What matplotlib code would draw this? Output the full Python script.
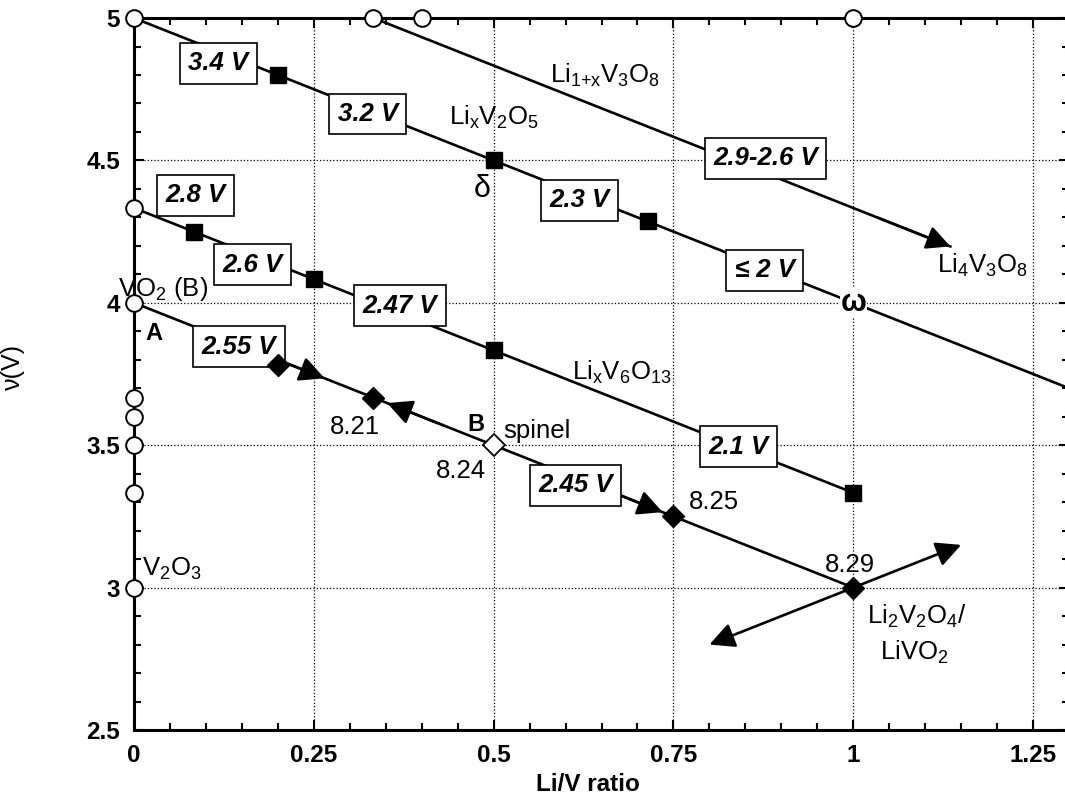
import matplotlib
matplotlib.use("Agg")
import matplotlib.pyplot as plt
import numpy as np
from matplotlib.ticker import MultipleLocator, FuncFormatter

plt.rcParams['font.family'] = ['Liberation Sans', 'DejaVu Sans']
plt.rcParams['mathtext.fontset'] = 'custom'
plt.rcParams['mathtext.rm'] = 'Liberation Sans'
plt.rcParams['mathtext.it'] = 'Liberation Sans'
plt.rcParams['mathtext.bf'] = 'Liberation Sans:bold'

# ---- data (x = Li/V ratio, y = average V valence) ----
# Li_xV2O5 line (runs off the right edge)
v2o5_x = [0.0, 1.3]
v2o5_y = [5.0, 3.7]
v2o5_sq_x = [0.2, 0.5, 0.714]
v2o5_sq_y = [4.8, 4.5, 4.286]

# Li1+xV3O8 line ending in an arrow at Li4V3O8
v3o8_x = [0.333, 1.135]
v3o8_y = [5.0, 4.198]

# Li_xV6O13 line
v6o13_x = [0.0, 1.0]
v6o13_y = [4.333, 3.333]
v6o13_sq_x = [0.083, 0.25, 0.5, 1.0]
v6o13_sq_y = [4.25, 4.083, 3.833, 3.333]

# A -> B (spinel) -> Li2V2O4 line
ab_x = [0.0, 1.0]
ab_y = [4.0, 3.0]
ab_dia_x = [0.2, 0.333, 0.75, 1.0]
ab_dia_y = [3.78, 3.667, 3.25, 3.0]
spinel_x = [0.5]
spinel_y = [3.5]
# lattice parameters next to the diamonds
lat_labels = ['8.21', '8.24', '8.25', '8.29']
lat_x = [0.307, 0.455, 0.806, 0.995]
lat_y = [3.565, 3.41, 3.30, 3.08]

# arrowheads along the A-B line: (tail x, tip x)
mid_arrows = [(0.20, 0.265), (0.43, 0.352), (0.67, 0.735)]
# double arrow through Li2V2O4
dbl_tips_x = [0.80, 1.15]
dbl_tips_y = [2.80, 3.15]

# open circles on the axes (known oxides)
circ_left_y = [5.0, 4.333, 4.0, 3.667, 3.6, 3.5, 3.333, 3.0]
circ_top_x = [0.333, 0.4, 1.0]

# voltage boxes
box_text = ['3.4 V', '3.2 V', '2.3 V', '\u2264 2 V', '2.9-2.6 V', '2.8 V',
            '2.6 V', '2.47 V', '2.1 V', '2.55 V', '2.45 V']
box_x = [0.117, 0.325, 0.62, 0.877, 0.878, 0.086, 0.165, 0.37, 0.841, 0.146, 0.614]
box_y = [4.842, 4.663, 4.36, 4.115, 4.508, 4.378, 4.133, 3.99, 3.494, 3.845, 3.36]

# =====================================================================

fig = plt.figure(figsize=(10.65, 7.98), dpi=100)
ax = fig.add_axes([0.1258, 0.0852, 0.878, 0.8922])
ax.set_xlim(0, 1.3)
ax.set_ylim(2.5, 5.0)

lw = 1.9
ax.plot(v2o5_x, v2o5_y, color='k', lw=lw, zorder=2)
ax.plot(v3o8_x, v3o8_y, color='k', lw=lw, zorder=2)
ax.plot(v6o13_x, v6o13_y, color='k', lw=lw, zorder=2)
ax.plot(ab_x, ab_y, color='k', lw=lw, zorder=2)

ax.annotate('', xy=(v3o8_x[1], v3o8_y[1]), xytext=(v3o8_x[1] - 0.1, v3o8_y[1] + 0.1),
            arrowprops=dict(arrowstyle='-|>', color='k', lw=lw, mutation_scale=36,
                            shrinkA=0, shrinkB=0), zorder=3)

# squares
ax.plot(v2o5_sq_x, v2o5_sq_y, 's', color='k', ms=11, zorder=4)
ax.plot(v6o13_sq_x, v6o13_sq_y, 's', color='k', ms=11, zorder=4, clip_on=False)

# diamonds (drawn over the boxes, like the first one peeking under "2.55 V")
ax.plot(ab_dia_x, ab_dia_y, 'D', color='k', ms=11, zorder=7)
ax.plot(spinel_x, spinel_y, 'D', mfc='white', mec='k', mew=1.3, ms=11, zorder=7)

# arrowheads on A-B line
for x0, x1 in mid_arrows:
    ax.annotate('', xy=(x1, 4.0 - x1), xytext=(x0, 4.0 - x0),
                arrowprops=dict(arrowstyle='-|>', color='k', lw=lw, mutation_scale=38,
                                shrinkA=0, shrinkB=0), zorder=3)

# double arrow at Li2V2O4
for tx, ty in zip(dbl_tips_x, dbl_tips_y):
    ax.annotate('', xy=(tx, ty), xytext=(1.0, 3.0),
                arrowprops=dict(arrowstyle='-|>', color='k', lw=lw, mutation_scale=38,
                                shrinkA=0, shrinkB=0), zorder=3)

# open circles
ax.plot([0] * len(circ_left_y), circ_left_y, 'o', mfc='white', mec='k', mew=1.4, ms=12,
        zorder=5, clip_on=False)
ax.plot(circ_top_x, [5.0] * len(circ_top_x), 'o', mfc='white', mec='k', mew=1.4, ms=12,
        zorder=5, clip_on=False)

# voltage boxes
for t, x, y in zip(box_text, box_x, box_y):
    ax.text(x, y, t, fontsize=18.5, fontweight='bold', fontstyle='italic',
            ha='center', va='center', zorder=6,
            bbox=dict(boxstyle='square,pad=0.33', fc='white', ec='k', lw=1.2))

# labels
fs = 18.5
ax.text(0.655, 4.80, r'Li$_{1{+}x}$V$_3$O$_8$', fontsize=fs, ha='center', va='center')
ax.text(0.50, 4.65, r'Li$_x$V$_2$O$_5$', fontsize=fs, ha='center', va='center')
ax.text(1.18, 4.13, r'Li$_4$V$_3$O$_8$', fontsize=fs, ha='center', va='center')
ax.text(0.678, 3.757, r'Li$_x$V$_6$O$_{13}$', fontsize=fs, ha='center', va='center')
ax.text(-0.022, 4.05, r'VO$_2$ (B)', fontsize=fs, ha='left', va='center', zorder=7, clip_on=False)
ax.text(0.016, 3.894, 'A', fontsize=17, fontweight='bold', ha='left', va='center')
ax.text(0.475, 3.574, 'B', fontsize=17, fontweight='bold', ha='center', va='center')
ax.text(0.56, 3.55, 'spinel', fontsize=fs, ha='center', va='center')
ax.text(0.011, 3.065, r'V$_2$O$_3$', fontsize=fs, ha='left', va='center')
ax.text(1.088, 2.90, r'Li$_2$V$_2$O$_4$/', fontsize=fs, ha='center', va='center')
ax.text(1.085, 2.774, r'LiVO$_2$', fontsize=fs, ha='center', va='center')
ax.text(0.484, 4.40, '\u03b4', fontsize=22, ha='center', va='center')
ax.text(1.0, 4.0, '\u03c9', fontsize=22, fontweight='bold', ha='center', va='center', zorder=6,
        bbox=dict(boxstyle='square,pad=0.02', fc='white', ec='none'))
for t, x, y in zip(lat_labels, lat_x, lat_y):
    ax.text(x, y, t, fontsize=fs, ha='center', va='center')

# axes styling
ax.xaxis.set_major_locator(MultipleLocator(0.25))
ax.xaxis.set_minor_locator(MultipleLocator(0.05))
ax.yaxis.set_major_locator(MultipleLocator(0.5))
ax.yaxis.set_minor_locator(MultipleLocator(0.1))
fmt = FuncFormatter(lambda v, p: f"{v:g}")
ax.xaxis.set_major_formatter(fmt)
ax.yaxis.set_major_formatter(fmt)
ax.tick_params(which='both', direction='in', top=True, right=True, width=1.5)
ax.tick_params(which='major', length=7, labelsize=17.5, pad=10)
ax.tick_params(which='minor', length=5)
for lab in ax.get_xticklabels() + ax.get_yticklabels():
    lab.set_fontweight('bold')
for sp in ax.spines.values():
    sp.set_linewidth(2.2)

ax.grid(which='major', linestyle=':', color='k', linewidth=0.9)
ax.set_axisbelow(True)

ax.set_xlabel('Li/V ratio', fontsize=17.5, fontweight='bold')
ax.xaxis.set_label_coords(0.4856, -0.06)
ax.set_ylabel('\u03bd(V)', fontsize=18)
ax.yaxis.set_label_coords(-0.1166, 0.51)

fig.savefig('out.png', dpi=100)
